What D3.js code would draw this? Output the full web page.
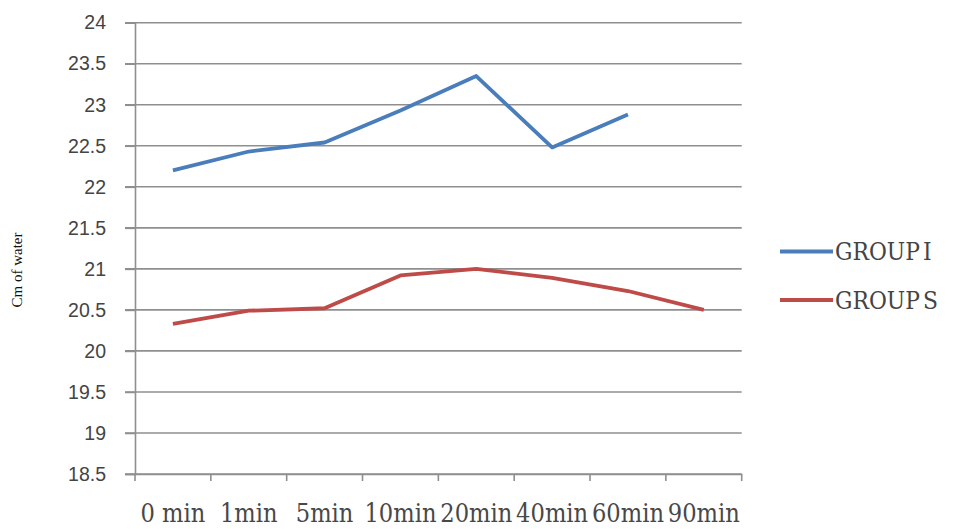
<!DOCTYPE html>
<html><head><meta charset="utf-8">
<script src="https://cdn.jsdelivr.net/npm/d3@7"></script>
<style>
html,body{margin:0;padding:0;background:#fff;}
svg{display:block;}
</style></head>
<body>
<script>
const categories = ["0 min","1min","5min","10min","20min","40min","60min","90min"];
const groupI = [22.2, 22.43, 22.54, 22.93, 23.35, 22.48, 22.88, null];
const groupS = [20.33, 20.49, 20.52, 20.92, 21.0, 20.89, 20.73, 20.5];
const yTicks = [18.5,19,19.5,20,20.5,21,21.5,22,22.5,23,23.5,24];
const seriesNames = ["GROUP I","GROUP S"];
const seriesColors = ["#4a7ebb","#be4b48"];

const W = 953, H = 529;
const svg = d3.select("body").append("svg").attr("width",W).attr("height",H);

const x = d3.scaleBand().domain(categories).range([135, 741.7]).padding(0);
const y = d3.scaleLinear().domain([18.5, 24]).range([474, 22.7]);

// gridlines
svg.append("g").selectAll("line").data(yTicks).join("line")
  .attr("x1",125).attr("x2",741.7)
  .attr("y1",d=>y(d)).attr("y2",d=>y(d))
  .attr("stroke","#8f8f8f").attr("stroke-width",1.6);

// y axis
const yAxis = svg.append("g").attr("transform","translate(135,0)")
  .call(d3.axisLeft(y).tickValues(yTicks).tickSize(10).tickPadding(19).tickFormat(d=>String(d)));
yAxis.select(".domain").attr("stroke","#8f8f8f").attr("stroke-width",1.6);
yAxis.selectAll(".tick line").attr("stroke","#8f8f8f").attr("stroke-width",1.6);
yAxis.selectAll(".tick text").attr("font-family","'Liberation Sans', Arial, sans-serif")
  .attr("font-size",19.5).attr("fill","#444");

// x axis
const xAxis = svg.append("g").attr("transform",`translate(0,${y(18.5)})`)
  .call(d3.axisBottom(x).tickSize(0).tickFormat(""));
xAxis.select(".domain").attr("stroke","#8f8f8f").attr("stroke-width",1.6);
const bounds = categories.map(c=>x(c)).concat([x.range()[1]]);
svg.append("g").selectAll("line").data(bounds).join("line")
  .attr("x1",d=>d).attr("x2",d=>d).attr("y1",y(18.5)).attr("y2",y(18.5)+7)
  .attr("stroke","#8f8f8f").attr("stroke-width",1.6);
svg.append("g").selectAll("text").data(categories).join("text")
  .attr("transform",d=>`translate(${x(d)+x.bandwidth()/2},522) scale(0.87,1)`)
  .attr("text-anchor","middle")
  .attr("font-family","'DejaVu Serif', serif").attr("font-size",26)
  .attr("fill","#484848").text(d=>d);

// y title
svg.append("text").attr("transform","translate(22,270) rotate(-90)")
  .attr("text-anchor","middle").attr("font-family","'Liberation Serif', serif")
  .attr("font-size",15).attr("fill","#111").text("Cm of water");

// lines
const series = [groupI, groupS];
const line = d3.line()
  .defined(d=>d.v!=null)
  .x(d=>x(d.c)+x.bandwidth()/2).y(d=>y(d.v));
series.forEach((vals,i)=>{
  const data = categories.map((c,j)=>({c, v: vals[j]}));
  svg.append("path").datum(data).attr("d",line)
    .attr("fill","none").attr("stroke",seriesColors[i]).attr("stroke-width",3.8)
    .attr("stroke-linejoin","round");
});

// legend
const legY = [251.5, 300];
seriesNames.forEach((n,i)=>{
  svg.append("line").attr("x1",780).attr("x2",833).attr("y1",legY[i]).attr("y2",legY[i])
    .attr("stroke",seriesColors[i]).attr("stroke-width",3.8);
  svg.append("text").attr("transform",`translate(835,${legY[i]+8.5}) scale(0.95,1.08)`)
    .attr("font-family","'DejaVu Serif', serif").attr("font-size",23)
    .attr("word-spacing",-4)
    .attr("fill","#444").text(n);
});
</script>
</body></html>
